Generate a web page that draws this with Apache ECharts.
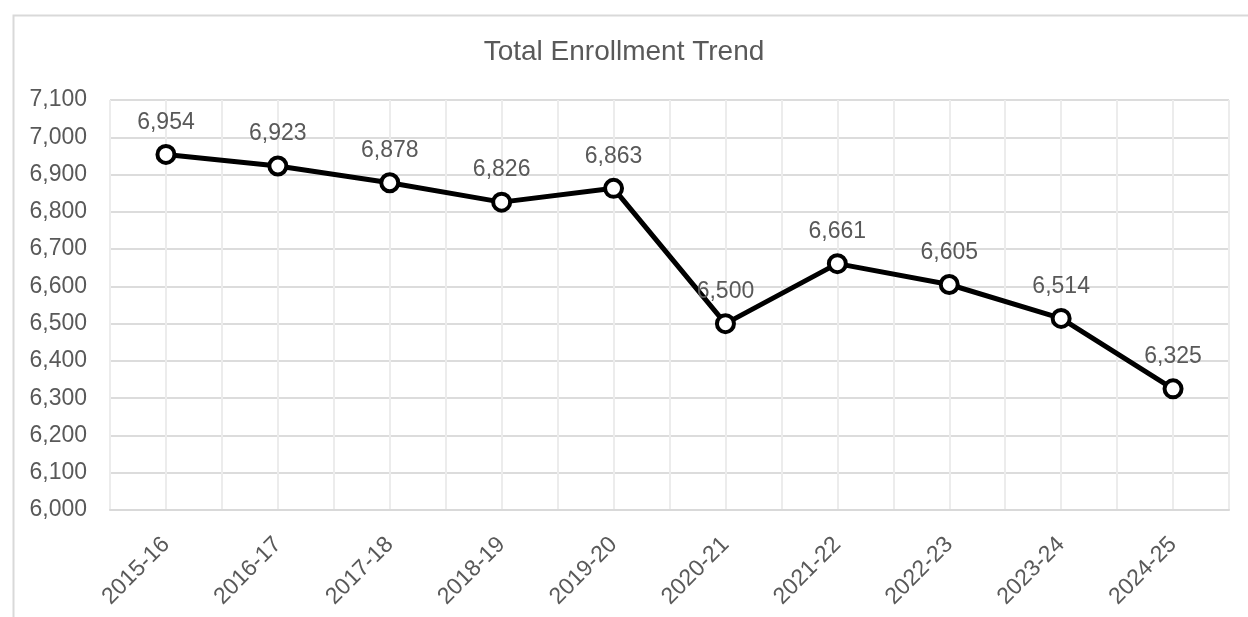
<!DOCTYPE html>
<html>
<head>
<meta charset="utf-8">
<script src="https://cdn.jsdelivr.net/npm/echarts@6/dist/echarts.min.js"></script>
<style>
html,body{margin:0;padding:0;background:#fff;}
#chart{width:1248px;height:617px;}
</style>
</head>
<body>
<div id="chart"></div>
<script>
const categories = ['2015-16','2016-17','2017-18','2018-19','2019-20','2020-21','2021-22','2022-23','2023-24','2024-25'];
const enrollment = [6954, 6923, 6878, 6826, 6863, 6500, 6661, 6605, 6514, 6325];
const yMin = 6000, yMax = 7100, yStep = 100;
const titleText = 'Total Enrollment Trend';

const halfSlots = [];
for (let i = 0; i < categories.length * 2; i++) halfSlots.push('');

const FONT = '"Liberation Sans", Arial, sans-serif';
const chart = echarts.init(document.getElementById('chart'));
chart.setOption({
  backgroundColor: '#fff',
  animation: false,
  title: {
    text: titleText,
    left: 'center',
    top: 33,
    textStyle: { fontFamily: FONT, fontSize: 28, fontWeight: 'normal', color: '#595959' }
  },
  graphic: [{
    type: 'rect',
    left: 11, top: 13,
    shape: { width: 1300, height: 700 },
    style: { fill: 'none', stroke: '#d9d9d9', lineWidth: 2 },
    silent: true, z: -10
  }],
  grid: { left: 110, right: 19, top: 100, bottom: 107, containLabel: false },
  xAxis: [{
    type: 'category',
    data: categories,
    boundaryGap: true,
    axisLine: { show: true, lineStyle: { color: '#d9d9d9', width: 2 } },
    axisTick: { show: false },
    splitLine: { show: false },
    axisLabel: { rotate: 45, interval: 0, margin: 31, fontFamily: FONT, fontSize: 23, color: '#595959' }
  }, {
    type: 'category',
    data: halfSlots,
    boundaryGap: true,
    position: 'bottom',
    axisLine: { show: false },
    axisTick: { show: false },
    axisLabel: { show: false },
    splitLine: { show: true, interval: 0, lineStyle: { color: '#ececec', width: 2 } }
  }],
  yAxis: {
    type: 'value',
    min: yMin, max: yMax, interval: yStep,
    axisLine: { show: false },
    axisTick: { show: false },
    splitLine: { show: true, lineStyle: { color: '#dcdcdc', width: 2 } },
    axisLabel: {
      margin: 23, fontFamily: FONT, fontSize: 23, color: '#595959',
      formatter: v => v.toLocaleString('en-US')
    }
  },
  series: [{
    type: 'line',
    xAxisIndex: 0,
    data: enrollment,
    symbol: 'circle',
    symbolSize: 17,
    lineStyle: { color: '#000', width: 5 },
    itemStyle: { color: '#fff', borderColor: '#000', borderWidth: 4 },
    label: {
      show: true, position: 'top', distance: 10,
      fontFamily: FONT, fontSize: 23, color: '#595959',
      formatter: p => p.value.toLocaleString('en-US')
    },
    z: 5
  }]
});
</script>
</body>
</html>
